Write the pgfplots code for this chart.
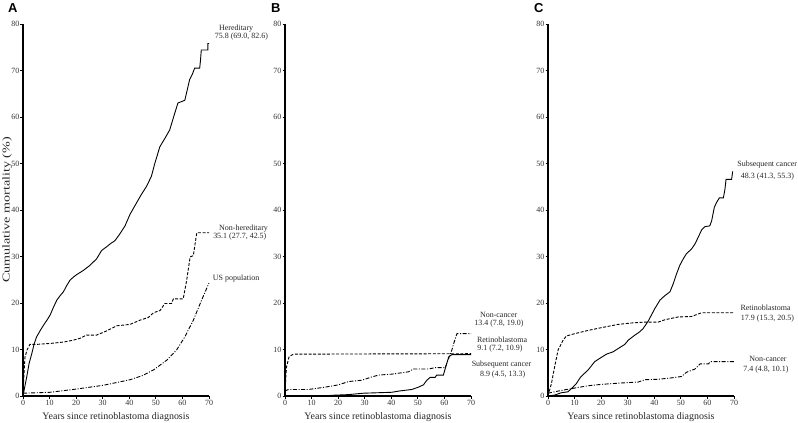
\documentclass[border=0pt]{standalone}
\usepackage{pgfplots}
\pgfplotsset{compat=1.18}
\usepackage{fontspec}
\setmainfont{Liberation Serif}
\newfontfamily\panelfont{Liberation Sans}

% ---- Panel A data ----
\pgfplotstableread{
x y
0 0
0.5 1.5
1.4 4.1
2.3 7.0
3.3 9.1
4.2 11.2
5.1 12.7
6.4 14.0
7.7 15.2
9.0 16.3
10.2 17.4
11.4 19.0
12.7 20.6
14.0 21.6
15.2 22.4
16.5 23.8
17.7 24.9
19.0 25.6
20.2 26.1
22.7 27.0
25.2 28.1
27.7 29.5
29.6 31.3
31.5 32.1
33.0 32.8
34.6 33.4
36.5 34.9
38.4 36.6
40.3 39.1
42.8 41.6
44.5 43.3
46.4 45.0
48.3 47.2
49.6 50.0
51.5 53.6
53.5 55.5
55.2 57.2
57.1 60.8
58.3 63.0
60.9 63.6
62.7 68.0
63.8 69.3
64.6 70.5
66.5 70.5
66.8 72.2
67.1 74.4
69.6 74.4
69.6 75.8
70 75.8
}\hered
\pgfplotstableread{
x y
0 0
0.4 5.0
0.75 8.4
1.6 10.0
2.6 11.1
5.1 11.1
10.2 11.3
15.2 11.6
18.9 12.0
21.4 12.4
23.9 13.1
27.7 13.1
31.5 14.0
35.3 15.1
40.3 15.4
44.0 16.3
47.2 16.9
49.1 17.9
51.6 18.4
53.4 19.9
55.9 19.9
56.6 20.9
60.3 20.9
61.6 24.9
62.9 29.9
64.1 30.2
65.4 35.1
70 35.1
}\nonhered
\pgfplotstableread{
x y
0 0.6
10.2 0.8
20.2 1.5
30.2 2.3
40.3 3.5
45.0 4.4
49.1 5.6
54.1 7.7
57.8 9.9
60.9 12.7
64.1 16.3
67.2 20.6
70 24.3
}\uspop

% ---- Panel B data ----
\pgfplotstableread{
x y
0 0
15.0 0
17.6 0.15
23.9 0.3
29.5 0.6
40.2 0.8
43.3 1.1
47.7 1.4
50.2 1.9
52.1 2.4
53.4 3.4
54.6 4.0
56.5 4.0
57.1 4.5
59.6 4.5
60.3 5.9
61.6 8.4
62.8 8.9
70 8.9
}\Bsub
\pgfplotstableread{
x y
0 0
0.3 4.0
0.6 6.3
1.5 8.4
3.1 9.0
70 9.1
}\Bretino
\pgfplotstableread{
x y
0 1.1
1.3 1.4
8.8 1.4
15.1 1.9
20.1 2.4
23.9 3.1
28.9 3.4
32.7 4.1
35.2 4.5
40.2 4.7
46.5 5.2
48.3 5.8
54.0 5.8
56.5 6.1
60.3 6.1
61.6 8.1
62.8 9.9
63.5 11.3
64.7 13.4
70 13.4
}\Bnoncancer

% ---- Panel C data ----
\pgfplotstableread{
x y
0 0
2.5 0.2
5.0 0.7
7.5 0.9
9.4 1.9
10.7 2.7
12.3 4.1
15.1 5.6
17.6 7.4
19.5 8.1
22.0 9.0
24.5 9.5
26.4 10.2
28.9 11.1
30.2 12.0
32.7 13.1
34.5 13.8
35.8 14.5
37.7 16.1
38.9 17.4
40.2 18.8
42.1 20.6
44.0 21.6
45.9 22.4
47.1 24.1
48.4 26.3
49.6 28.1
50.9 29.5
52.1 30.6
54.0 31.6
55.3 32.7
56.5 34.1
57.8 35.7
59.0 36.4
60.9 36.6
61.6 37.7
62.6 40.6
63.4 41.6
64.5 42.6
66.0 42.6
66.6 44.5
67.0 46.6
69.1 46.6
69.5 48.3
}\Csub
\pgfplotstableread{
x y
0 0
1.3 2.7
2.5 6.3
3.8 9.9
5.7 12.0
6.9 12.9
10.0 13.4
15.1 14.1
20.1 14.7
26.4 15.4
31.4 15.7
36.4 15.9
41.5 15.9
44.0 16.4
49.0 17.0
54.0 17.1
57.8 17.9
70 17.9
}\Cretino
\pgfplotstableread{
x y
0 0.6
5.0 1.2
10.0 1.7
15.0 2.2
20.0 2.5
27.6 2.8
33.9 3.0
36.4 3.5
41.5 3.6
46.5 3.9
50.3 4.2
52.1 5.1
55.3 5.8
57.2 6.9
60.3 6.9
61.2 7.4
70 7.4
}\Cnoncancer

\tikzset{
  solidc/.style={black, line width=0.9bp},
  dashedc/.style={black, line width=0.9bp, dash pattern=on 3bp off 1.6bp},
  dashdotc/.style={black, line width=0.9bp, dash pattern=on 4bp off 1.6bp on 1bp off 1.6bp},
  annot/.style={font=\fontsize{8}{8}\selectfont, text=black!85, inner sep=0pt},
}

\pgfplotsset{
  panel/.style={
    scale only axis, width=186bp, height=372bp,
    anchor=south west,
    xmin=0, xmax=70, ymin=0, ymax=80,
    axis lines=left,
    axis line style={-, line width=1.1bp, black},
    xtick={0,10,...,70}, ytick={0,10,...,80},
    tick align=outside, major tick length=2.5bp,
    tick style={black, line width=0.8bp},
    xticklabel style={font=\fontsize{8}{9}\selectfont, text=black!80, inner sep=1bp, yshift=-0.5bp},
    yticklabel style={font=\fontsize{8}{9}\selectfont, text=black!80, inner sep=1bp},
    /pgf/number format/assume math mode=true,
    clip=false,
    xlabel={Years since retinoblastoma diagnosis},
    xlabel style={at={(axis description cs:0.5,0)}, anchor=base, yshift=-23.5bp, font=\fontsize{10}{11}\selectfont, text=black!85},
  },
}

\begin{document}
\begin{tikzpicture}
\path[use as bounding box] (0,0) rectangle (798bp,423bp);

% Panel A
\begin{axis}[panel, at={(23bp,27bp)}]
\addplot[solidc] table {\hered};
\addplot[dashedc] table {\nonhered};
\addplot[dashdotc] table {\uspop};
\node[annot] at (axis cs:80.2,79.1) {Hereditary};
\node[annot] at (axis cs:82.2,77.2) {75.8 (69.0, 82.6)};
\node[annot] at (axis cs:83.0,36.1) {Non-hereditary};
\node[annot] at (axis cs:81.6,34.2) {35.1 (27.7, 42.5)};
\node[annot] at (axis cs:80.2,25.2) {US population};
\end{axis}

% Panel B
\begin{axis}[panel, at={(285bp,27bp)}]
\addplot[solidc] table {\Bsub};
\addplot[dashedc] table {\Bretino};
\addplot[dashdotc] table {\Bnoncancer};
\node[annot] at (axis cs:80.4,17.4) {Non-cancer};
\node[annot] at (axis cs:80.5,15.5) {13.4 (7.8, 19.0)};
\node[annot] at (axis cs:81.7,12.0) {Retinoblastoma};
\node[annot] at (axis cs:80.9,10.1) {9.1 (7.2, 10.9)};
\node[annot] at (axis cs:81.5,6.7) {Subsequent cancer};
\node[annot] at (axis cs:81.9,4.7) {8.9 (4.5, 13.3)};
\end{axis}

% Panel C
\begin{axis}[panel, at={(548bp,27bp)}]
\addplot[solidc] table {\Csub};
\addplot[dashedc] table {\Cretino};
\addplot[dashdotc] table {\Cnoncancer};
\node[annot] at (axis cs:82.5,49.7) {Subsequent cancer};
\node[annot] at (axis cs:82.6,47.2) {48.3 (41.3, 55.3)};
\node[annot] at (axis cs:81.9,18.9) {Retinoblastoma};
\node[annot] at (axis cs:82.6,16.7) {17.9 (15.3, 20.5)};
\node[annot] at (axis cs:82.8,7.9) {Non-cancer};
\node[annot] at (axis cs:82.0,5.7) {7.4 (4.8, 10.1)};
\end{axis}

% y label and panel letters
\node[rotate=90, xscale=1.35, font=\fontsize{10.5}{12}\selectfont, text=black!85, inner sep=0pt] at (7bp,213bp) {Cumulative mortality (\%)};
\node[font=\panelfont\bfseries\fontsize{13}{14}\selectfont, anchor=base west, inner sep=0pt] at (8bp,410bp) {A};
\node[font=\panelfont\bfseries\fontsize{13}{14}\selectfont, anchor=base west, inner sep=0pt] at (271bp,410bp) {B};
\node[font=\panelfont\bfseries\fontsize{13}{14}\selectfont, anchor=base west, inner sep=0pt] at (534bp,410bp) {C};
\end{tikzpicture}
\end{document}
